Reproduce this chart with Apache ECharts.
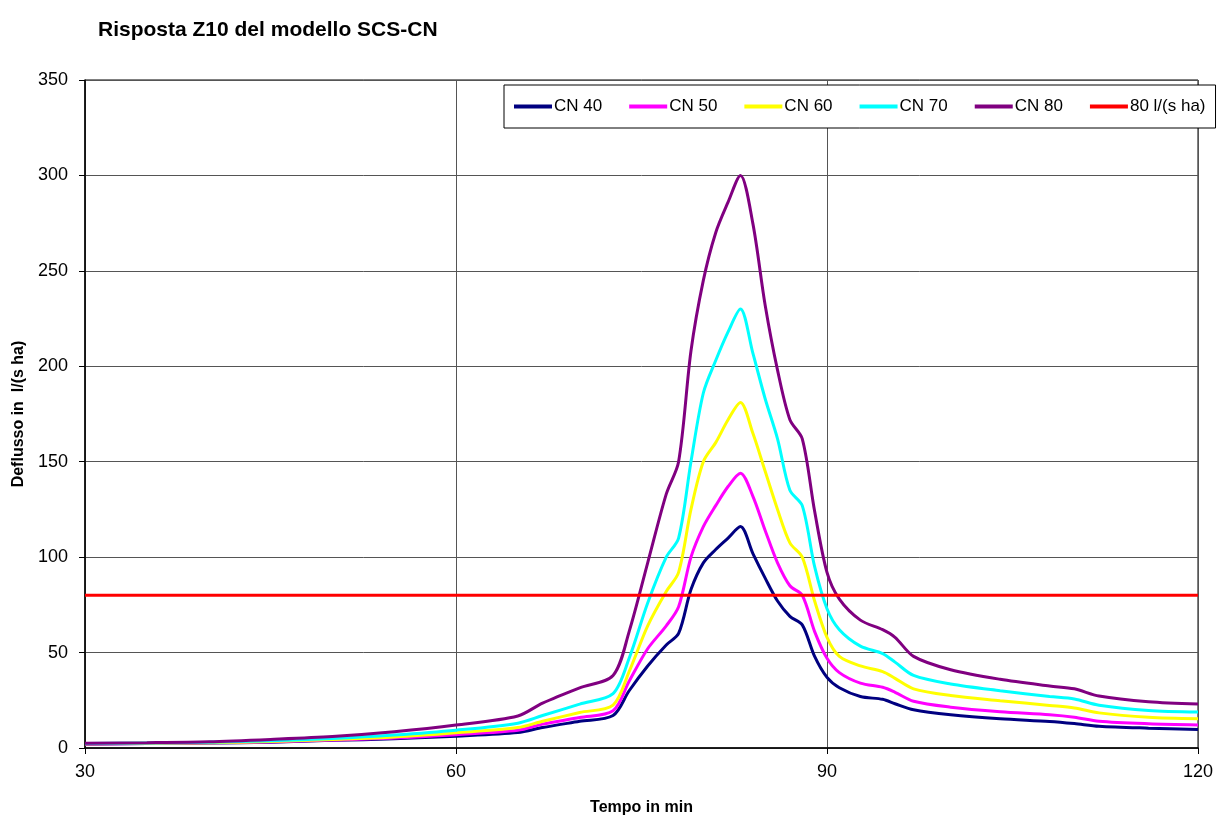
<!DOCTYPE html>
<html>
<head>
<meta charset="utf-8">
<title>Risposta Z10 del modello SCS-CN</title>
<script src="https://cdn.jsdelivr.net/npm/echarts@6/dist/echarts.min.js"></script>
<style>
  html, body { margin: 0; padding: 0; background: #fff; }
  #chart { width: 1226px; height: 815px; }
</style>
</head>
<body>
<div id="chart"></div>
<script>
// tempo (min)
const tempo = [30, 35, 40, 45, 50, 55, 60, 65, 67, 70, 72.7, 74, 75.5, 77, 78, 79, 80, 81, 82, 83,
  84, 85, 86, 87, 88, 89, 90, 91, 92.7, 94.5, 95.5, 97, 100, 104, 108, 110, 112, 116, 120]

// deflusso in l/(s ha)
const cn40 = [2.0, 2.3, 2.6, 3.0, 4.0, 4.8, 6.2, 8.1, 10.7, 14, 17, 30, 43, 54, 60, 83, 97, 104, 110, 116,
  102, 89, 77, 69, 64.5, 48, 37, 31.6, 27, 25.5, 23.2, 20, 17.4, 15.3, 13.9, 12.8, 11.4, 10.4, 9.7]
const cn50 = [2.1, 2.4, 2.7, 3.2, 4.2, 5.2, 7, 9.3, 12.5, 16, 19.5, 35, 52, 64, 74, 100, 116, 127, 137, 144,
  132, 114, 97, 85, 80, 61, 47, 39.5, 34, 31.8, 29.2, 24.5, 21.4, 19, 17.4, 16.1, 14, 12.7, 12.1]
const cn60 = [2.2, 2.5, 2.8, 3.4, 4.5, 5.8, 8, 10.7, 14, 18.6, 22.5, 40, 64, 82, 92, 125, 150, 160, 172, 181,
  165, 145, 125, 107.5, 100, 77, 58, 48, 43, 40, 36.5, 31, 27.5, 24.8, 22.3, 21, 18.4, 16.1, 15.3]
const cn70 = [2.3, 2.6, 3.0, 3.8, 5, 6.8, 9.3, 13, 17, 23, 28.5, 47, 76, 100, 110, 150, 186, 203, 218, 230,
  207, 183, 162, 135, 127, 95, 73, 62, 53.4, 49.5, 45, 38, 33.5, 30, 27, 25.7, 22.4, 19.6, 18.8]
const cn80 = [2.5, 2.8, 3.3, 4.5, 6, 8.5, 12, 16.8, 23.5, 31.5, 38, 61, 97, 133, 150, 208, 245, 270, 286, 300,
  275, 232, 198, 172, 162, 124, 92, 78, 67, 62, 58, 48, 41, 36, 32.5, 31, 27.2, 24.2, 23]

// soglia 80 l/(s ha)
const sogliaTempo = [30, 120]
const sogliaValori = [80, 80]

const xTicks = [30, 60, 90, 120]
const yTicks = [0, 50, 100, 150, 200, 250, 300, 350]

const pairs = (xs, ys) => xs.map((x, i) => [x, ys[i]])

const lineSeries = (name, values, color) => ({
  name: name,
  type: 'line',
  data: pairs(tempo, values),
  smooth: 0.3,
  showSymbol: false,
  symbol: 'none',
  lineStyle: { color: color, width: 3 },
  itemStyle: { color: color },
  emphasis: { disabled: true }
})

const chart = echarts.init(document.getElementById('chart'))

const option = {
  animation: false,
  backgroundColor: '#fff',
  textStyle: { fontFamily: 'Arial, "Liberation Sans", sans-serif', color: '#000' },
  title: {
    text: 'Risposta Z10 del modello SCS-CN',
    left: 93,
    top: 15,
    textStyle: { fontSize: 21, fontWeight: 'bold', color: '#000', fontFamily: 'Arial, "Liberation Sans", sans-serif' }
  },
  legend: {
    left: 504,
    top: 85,
    padding: [13, 10, 13, 10],
    backgroundColor: '#fff',
    borderColor: '#000',
    borderWidth: 1,
    borderRadius: 0,
    icon: 'rect',
    itemWidth: 38,
    itemHeight: 4,
    itemGap: 27,
    textStyle: { fontSize: 17, color: '#000', padding: [0, 0, 0, -3] },
    data: ['CN 40', 'CN 50', 'CN 60', 'CN 70', 'CN 80', '80 l/(s ha)']
  },
  grid: {
    left: 85,
    top: 80,
    width: 1113,
    height: 668,
    outerBoundsMode: 'none',
    show: true,
    borderColor: '#000',
    borderWidth: 1
  },
  xAxis: {
    type: 'value',
    min: xTicks[0],
    max: xTicks[xTicks.length - 1],
    interval: 30,
    name: 'Tempo in min',
    nameLocation: 'middle',
    nameGap: 52,
    nameTextStyle: { fontSize: 16, fontWeight: 'bold', color: '#000' },
    axisLine: { show: true, onZero: false, lineStyle: { color: '#000', width: 1.5 } },
    axisTick: { show: true, inside: false, length: 6, lineStyle: { color: '#000' } },
    axisLabel: { fontSize: 18, color: '#000', margin: 15 },
    splitLine: { show: true, lineStyle: { color: '#555', width: 1 } }
  },
  yAxis: {
    type: 'value',
    min: yTicks[0],
    max: yTicks[yTicks.length - 1],
    interval: 50,
    name: 'Deflusso in  l/(s ha)',
    nameLocation: 'middle',
    nameGap: 57,
    nameRotate: 90,
    nameTextStyle: { fontSize: 16, fontWeight: 'bold', color: '#000' },
    axisLine: { show: true, lineStyle: { color: '#000', width: 1.5 } },
    axisTick: { show: true, inside: false, length: 6, lineStyle: { color: '#000' } },
    axisLabel: { fontSize: 18, color: '#000', margin: 17 },
    splitLine: { show: true, lineStyle: { color: '#555', width: 1 } }
  },
  series: [
    lineSeries('CN 40', cn40, '#000080'),
    lineSeries('CN 50', cn50, '#FF00FF'),
    lineSeries('CN 60', cn60, '#FFFF00'),
    lineSeries('CN 70', cn70, '#00FFFF'),
    lineSeries('CN 80', cn80, '#800080'),
    {
      name: '80 l/(s ha)',
      type: 'line',
      data: pairs(sogliaTempo, sogliaValori),
      showSymbol: false,
      symbol: 'none',
      lineStyle: { color: '#FF0000', width: 3 },
      itemStyle: { color: '#FF0000' },
      emphasis: { disabled: true }
    }
  ]
}

chart.setOption(option)
</script>
</body>
</html>
